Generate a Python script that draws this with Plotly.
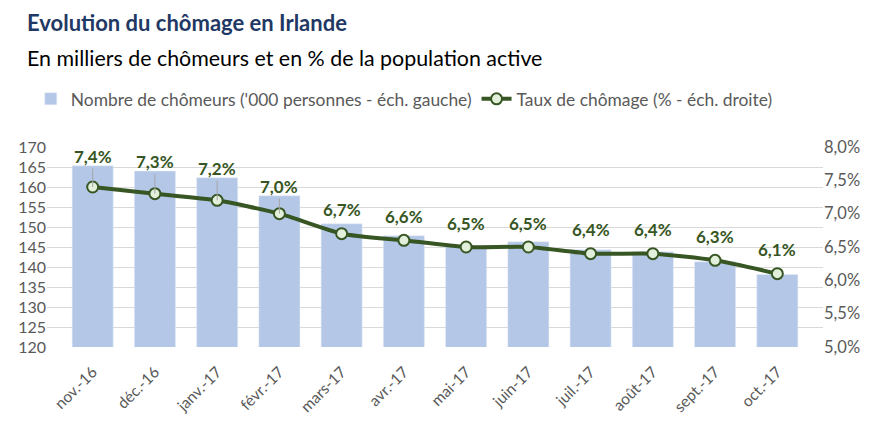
import plotly.graph_objects as go

months = ["nov.-16", "déc.-16", "janv.-17", "févr.-17", "mars-17", "avr.-17",
          "mai-17", "juin-17", "juil.-17", "août-17", "sept.-17", "oct.-17"]
chomeurs = [165.3, 164.0, 162.3, 157.8, 150.8, 147.8, 145.3, 146.3, 144.3, 143.8, 141.3, 138.1]
taux = [7.4, 7.3, 7.2, 7.0, 6.7, 6.6, 6.5, 6.5, 6.4, 6.4, 6.3, 6.1]
left_ticks = [120, 125, 130, 135, 140, 145, 150, 155, 160, 165, 170]
right_ticks = [5.0, 5.5, 6.0, 6.5, 7.0, 7.5, 8.0]

FONT = "Lato, sans-serif"
GREEN = "#375623"
GREY = "#595959"
L_RANGE = [120, 170]
R_RANGE = [5.0, 8.0]

ML, MR, MT, MB = 39, 61, 139, 96
W, H = 876, 435
W_PLOT = W - ML - MR
H_PLOT = H - MT - MB


def fr(v, d=1):
    return f"{v:.{d}f}".replace(".", ",")


def left_to_right(v):
    return R_RANGE[0] + (v - L_RANGE[0]) * (R_RANGE[1] - R_RANGE[0]) / (L_RANGE[1] - L_RANGE[0])


def right_to_left(v):
    return L_RANGE[0] + (v - R_RANGE[0]) * (L_RANGE[1] - L_RANGE[0]) / (R_RANGE[1] - R_RANGE[0])


def px_x(x):
    return (x - ML) / W_PLOT


def px_y(y):
    return (H - MB - y) / H_PLOT


fig = go.Figure()
fig.add_trace(go.Bar(
    x=months, y=chomeurs, name="Nombre de chômeurs ('000 personnes - éch. gauche)",
    marker=dict(color="#B4C7E7"), yaxis="y",
))
fig.add_trace(go.Scatter(
    x=months, y=taux, name="Taux de chômage (% - éch. droite)", yaxis="y2",
    mode="lines+markers", line=dict(color=GREEN, width=4, shape="spline", smoothing=0.6),
    marker=dict(size=11, color="#E2EFDA", line=dict(color=GREEN, width=2)),
))

for m, c, t in zip(months, chomeurs, taux):
    above_marker = right_to_left(t) + 6.0
    above_bar = c + 2.3
    label_left = max(above_marker, above_bar)
    label_y = left_to_right(label_left)
    txt = f"<b>{fr(t)}%</b>"
    leader = above_bar > above_marker + 0.5
    if leader:
        fig.add_annotation(x=m, y=t, xref="x", yref="y2", ax=m, ay=label_y,
                           axref="x", ayref="y2", text=txt, showarrow=True,
                           arrowhead=0, arrowwidth=1, arrowcolor="#A6A6A6",
                           font=dict(family=FONT, size=17, color=GREEN))
    else:
        fig.add_annotation(x=m, y=label_y, xref="x", yref="y2", text=txt, showarrow=False,
                           font=dict(family=FONT, size=17, color=GREEN), yanchor="middle")

fig.add_annotation(text="<b>Evolution du chômage en Irlande</b>",
                   x=px_x(17), y=px_y(15), xref="paper", yref="paper",
                   xanchor="left", yanchor="middle", showarrow=False,
                   font=dict(family=FONT, size=22, color="#1F3864"))
fig.add_annotation(text="En milliers de chômeurs et en % de la population active",
                   x=px_x(17), y=px_y(50), xref="paper", yref="paper",
                   xanchor="left", yanchor="middle", showarrow=False,
                   font=dict(family=FONT, size=21.4, color="black"))

fig.update_layout(
    width=W, height=H,
    paper_bgcolor="white", plot_bgcolor="white",
    margin=dict(l=ML, r=MR, t=MT, b=MB, autoexpand=False),
    font=dict(family=FONT, size=15, color=GREY),
    bargap=0.34,
    showlegend=True,
    legend=dict(orientation="h", x=0.026, xref="container", xanchor="left",
                y=1 - 91 / H, yref="container", yanchor="middle",
                font=dict(family=FONT, size=17.4, color=GREY), traceorder="normal"),
    xaxis=dict(tickangle=-45, showgrid=False, showline=False, ticks="", automargin=False,
               ticklabelstandoff=12,
               tickfont=dict(family=FONT, size=15.5, color=GREY)),
    yaxis=dict(range=L_RANGE, tickvals=left_ticks, showgrid=True, gridcolor="#D9D9D9",
               zeroline=False, ticks="", automargin=False,
               tickfont=dict(family=FONT, size=16, color=GREY)),
    yaxis2=dict(range=R_RANGE, tickvals=right_ticks,
                ticktext=[fr(v) + "%" for v in right_ticks],
                overlaying="y", side="right", automargin=False,
                showgrid=False, zeroline=False,
                tickfont=dict(family=FONT, size=16.5, color=GREY)),
)

fig.write_html("out.html")
